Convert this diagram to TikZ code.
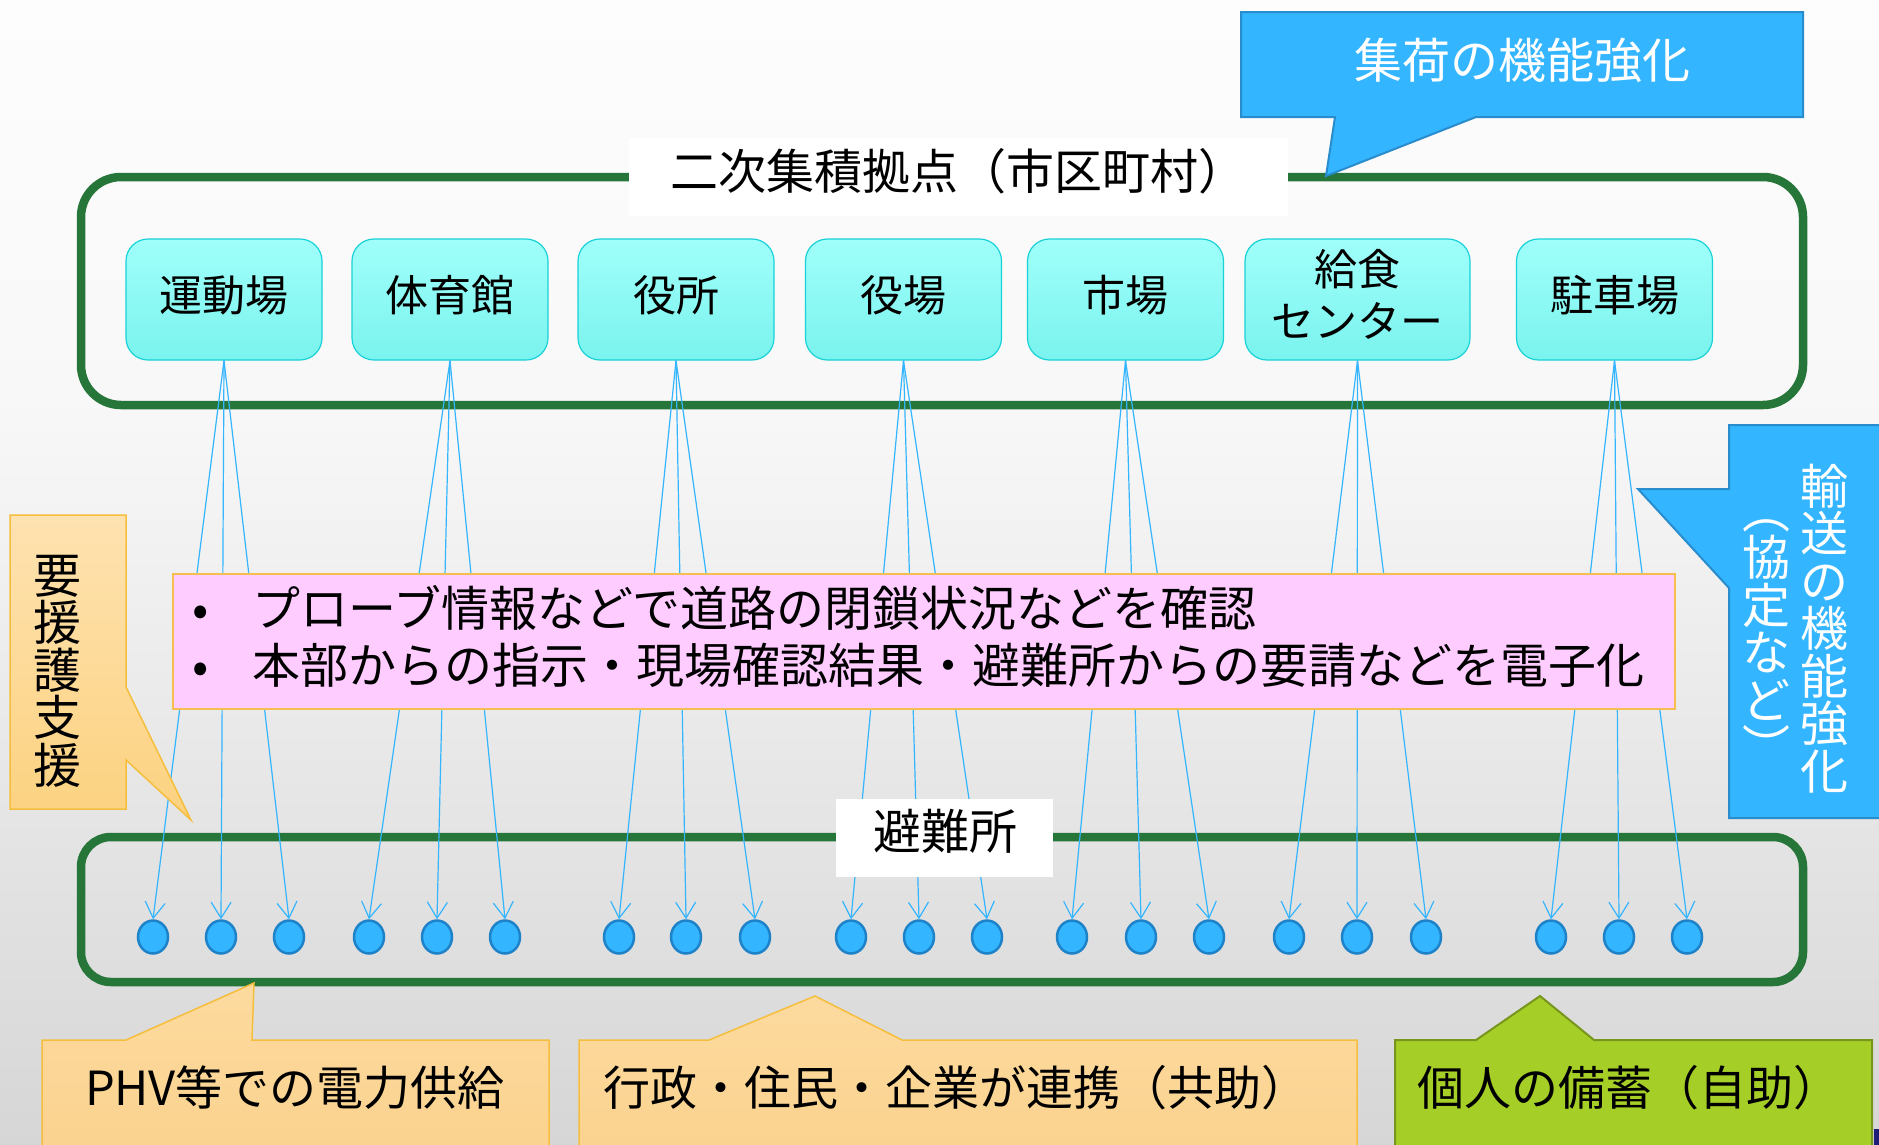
\documentclass[tikz,border=0pt]{standalone}
\usepackage{graphicx}
\usepackage{fontspec}
\setmainfont{Noto Sans CJK JP}
\usetikzlibrary{arrows.meta,shapes.geometric}
\definecolor{frameGreen}{RGB}{38,117,57}
\definecolor{cyanTop}{RGB}{160,255,250}
\definecolor{cyanBot}{RGB}{122,243,238}
\definecolor{cyanBorder}{RGB}{25,210,215}
\definecolor{blueFill}{RGB}{51,181,255}
\definecolor{blueBorder}{RGB}{40,140,205}
\definecolor{dotBorder}{RGB}{30,130,200}
\definecolor{linkBlue}{RGB}{51,181,255}
\definecolor{pinkFill}{RGB}{255,204,255}
\definecolor{pinkBorder}{RGB}{245,190,80}
\definecolor{orangeTop}{RGB}{254,226,176}
\definecolor{orangeBot}{RGB}{252,210,128}
\definecolor{orangeFillA}{RGB}{252,218,158}
\definecolor{orangeFillB}{RGB}{251,210,142}
\definecolor{orangeBorder}{RGB}{245,190,60}
\definecolor{limeFill}{RGB}{165,206,38}
\definecolor{limeBorder}{RGB}{120,150,30}
\definecolor{bgTop}{RGB}{253,253,253}
\definecolor{bgMid}{RGB}{248,248,248}
\definecolor{bgBot}{RGB}{214,214,214}
\definecolor{navyBit}{RGB}{30,30,120}
\newcommand{\fsz}[1]{\fontsize{#1}{#1}\selectfont}
\begin{document}
\begin{tikzpicture}[x=1pt,y=-1pt,
  c48/.style={font=\fsz{48}, inner sep=0pt, text height=42.2pt, text depth=5.8pt},
  c47/.style={font=\fsz{47}, inner sep=0pt, text height=41.4pt, text depth=5.6pt},
  topbox/.style={shade, top color=cyanTop, bottom color=cyanBot, draw=cyanBorder,
    line width=1.2pt, rounded corners=22pt, minimum width=196pt, minimum height=121pt,
    inner sep=0pt, font=\fsz{43}, text height=37.8pt, text depth=14.2pt},
  dotnode/.style={ellipse, fill=blueFill, draw=dotBorder, line width=2.5pt,
    minimum width=30pt, minimum height=33pt, inner sep=0pt},
  conn/.style={draw=linkBlue, line width=1.2pt, -{Straight Barb[length=16pt,width=20pt]}},
  greenframe/.style={draw=frameGreen, line width=8.5pt},
  bluecall/.style={fill=blueFill, draw=blueBorder, line width=2pt},
  orangecall/.style={top color=orangeFillA, bottom color=orangeFillB, draw=orangeBorder, line width=1.5pt},
  limecall/.style={fill=limeFill, draw=limeBorder, line width=2pt},
  whitelabel/.style={fill=white, inner sep=0pt}
]
\useasboundingbox (0,0) rectangle (1879,1144);
\clip (0,0) rectangle (1879,1144);
% background
\shade[top color=bgTop, bottom color=bgMid] (0,0) rectangle (1879,400);
\shade[top color=bgMid, bottom color=bgBot] (0,399) rectangle (1879,1144);

% frames
\draw[greenframe, rounded corners=40pt] (81,177) rectangle (1803,405);
\draw[greenframe, rounded corners=30pt] (81,837) rectangle (1803,982);

% top boxes
\node[topbox] (b1) at (224,299.5) {運動場};
\node[topbox] (b2) at (450,299.5) {体育館};
\node[topbox] (b3) at (676,299.5) {役所};
\node[topbox] (b4) at (903.5,299.5) {役場};
\node[topbox] (b5) at (1125.5,299.5) {市場};
\node[topbox, minimum width=225pt] (b6) at (1357.5,299.5) {};
\node[topbox] (b7) at (1614.5,299.5) {駐車場};
\node[align=center, inner sep=0pt, font=\fontsize{43}{52.5}\selectfont] (b6t) at (1357.5,294.5)
  {給食\\センター};

% shelters (dots)
\foreach \x [count=\i] in {153,221,289,369,437,505,619,686,755,851,919,987,1072,1141,1209,1289,1357,1426,1551,1619,1687}
  \node[dotnode] (d\i) at (\x,937) {};

% connectors
\foreach \b in {1,...,7}
  \foreach \k in {1,2,3} {
    \pgfmathtruncatemacro\dd{3*(\b-1)+\k}
    \draw[conn] (b\b.south) -- (d\dd.north);
  }

% pink info box
\node[draw=pinkBorder, fill=pinkFill, line width=1.5pt, minimum width=1502pt, minimum height=135pt, inner sep=0pt] (pink) at (924,641.5) {};
\node[c48, anchor=west] (p1) at (173,608) {\hspace*{20pt}\makebox[14pt]{•}\hspace*{45pt}プローブ情報などで道路の閉鎖状況などを確認};
\node[c48, anchor=west] (p2) at (173,665) {\hspace*{20pt}\makebox[14pt]{•}\hspace*{45pt}本部からの指示・現場確認結果・避難所からの要請などを電子化};

% white labels
\node[whitelabel, minimum width=659pt, minimum height=78pt] (titlebox) at (958.5,177) {};
\node[c48] (title) at (958,171) {二次集積拠点（市区町村）};
\node[whitelabel, minimum width=217pt, minimum height=78pt] (evacbox) at (944.5,838) {};
\node[c48] (evac) at (945,831) {避難所};

% top blue callout
\draw[bluecall] (1241,12) -- (1803,12) -- (1803,117) -- (1476,117) -- (1326,176) -- (1335,117) -- (1241,117) -- cycle;
\node[c48, text=white] (topcall) at (1522,60) {集荷の機能強化};

% right blue callout
\draw[bluecall] (1729,425) -- (1895,425) -- (1895,818) -- (1729,818) -- (1729,588) -- (1638,489) -- (1729,489) -- cycle;
\foreach \ch [count=\i from 0] in {輸,送,の,機,能,強,化}
  \node[c48, text=white] (R\i) at (1824,{486+47.5*\i}) {\ch};
\foreach \ch [count=\i from 0] in {︵,協,定,な,ど,︶}
  \node[c48, text=white] (Q\i) at (1766,{510+47.5*\i}) {\ch};

% left orange callout
\draw[top color=orangeTop, bottom color=orangeBot, draw=orangeBorder, line width=1.5pt]
  (10,515) -- (126,515) -- (126,687) -- (191,820) -- (126,760) -- (126,809) -- (10,809) -- cycle;
\foreach \ch [count=\i from 0] in {要,援,護,支,援}
  \node[c48] (L\i) at (57,{575+47.5*\i}) {\ch};

% bottom callouts
\draw[orangecall] (42,1040) -- (126,1040) -- (254,983) -- (252,1040) -- (549,1040) -- (549,1160) -- (42,1160) -- cycle;
\node[c47] (t1) at (295,1088) {PHV等での電力供給};
\draw[orangecall] (579,1040) -- (709,1040) -- (815,996) -- (902,1040) -- (1357,1040) -- (1357,1160) -- (579,1160) -- cycle;
\node[c47] (t2) at (956,1088) {行政・住民・企業が連携（共助）};
\draw[limecall] (1395,1040) -- (1476,1040) -- (1540,996) -- (1594,1040) -- (1872,1040) -- (1872,1160) -- (1395,1160) -- cycle;
\node[c47] (t3) at (1629,1088) {個人の備蓄（自助）};

\fill[navyBit] (1874,1129) rectangle (1880,1145);
\end{tikzpicture}
\end{document}
